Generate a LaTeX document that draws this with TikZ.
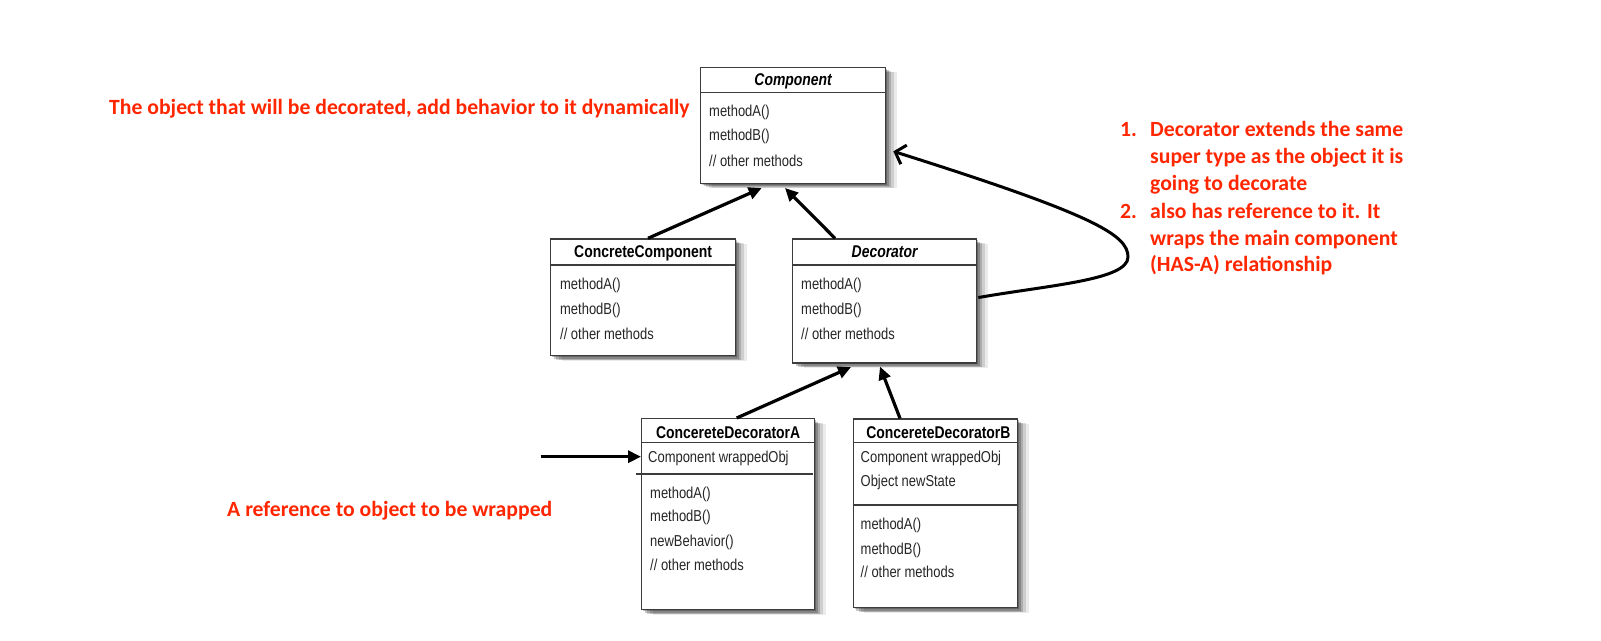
\documentclass[tikz,border=0pt]{standalone}
\usepackage{fontspec}
\usetikzlibrary{arrows.meta,shadows,calc}
\newfontfamily\annotfont{Carlito}
\newfontfamily\umlfont{Liberation Sans}[FakeStretch=0.82]
\definecolor{annot}{RGB}{255,38,0}
\definecolor{boxline}{RGB}{60,60,60}
\tikzset{
  softshadow/.style={
    general shadow={shadow xshift=11pt,shadow yshift=-5pt,fill=black,opacity=0.08},
    general shadow={shadow xshift=8pt,shadow yshift=-4.5pt,fill=black,opacity=0.12},
    general shadow={shadow xshift=5.5pt,shadow yshift=-4pt,fill=black,opacity=0.16},
    general shadow={shadow xshift=3pt,shadow yshift=-3pt,fill=black,opacity=0.22},
    general shadow={shadow xshift=1.5pt,shadow yshift=-1.5pt,fill=black,opacity=0.25}},
  umlbox/.style={draw=boxline, line width=1.3pt, fill=white, anchor=north west,
    inner sep=0pt, softshadow},
  divider/.style={draw=boxline, line width=1.1pt},
  umltext/.style={font=\umlfont\fontsize{15.8}{18}\selectfont, anchor=west,
    inner sep=0pt, text height=11.5pt, text depth=3.3pt, text=black!85},
  umlhead/.style={font=\umlfont\bfseries\fontsize{17}{20}\selectfont, anchor=center,
    inner sep=0pt, text height=12.5pt, text depth=3.5pt},
  umlabstract/.style={umlhead, font=\umlfont\bfseries\itshape\fontsize{17}{20}\selectfont},
  annottext/.style={font=\annotfont\bfseries\fontsize{21.7}{26}\selectfont, text=annot,
    anchor=base west, inner sep=0pt},
  inh/.style={line width=3.2pt, draw=black, -{Triangle[length=13pt,width=12pt]}},
  wrapcurve/.style={line width=3pt, draw=black, -{Straight Barb[length=9pt,width=20pt]}}
}
\begin{document}
\begin{tikzpicture}[x=1pt,y=-1pt]
\fill[white] (0,0) rectangle (1601,640);
\useasboundingbox (0,0) rectangle (1601,640);

% Component
\node[umlbox, minimum width=185pt, minimum height=116pt] (comp) at (700,66.7) {};
\draw[divider] ($(comp.north west)+(0,26)$) -- ($(comp.north east)+(0,26)$);
\node[umlabstract] (compH) at ($(comp.north)+(0,14)$) {Component};
\node[umltext] (compM1) at ($(comp.north west)+(9,45.6)$) {methodA()};
\node[umltext] (compM2) at ($(comp.north west)+(9,70)$) {methodB()};
\node[umltext] (compM3) at ($(comp.north west)+(9,95.6)$) {// other methods};

% ConcreteComponent
\node[umlbox, minimum width=185pt, minimum height=116.7pt] (cc) at (550,238.3) {};
\draw[divider] ($(cc.north west)+(0,26.7)$) -- ($(cc.north east)+(0,26.7)$);
\node[umlhead] (ccH) at ($(cc.north)+(0,14.5)$) {ConcreteComponent};
\node[umltext] (ccM1) at ($(cc.north west)+(10,46.7)$) {methodA()};
\node[umltext] (ccM2) at ($(cc.north west)+(10,71.7)$) {methodB()};
\node[umltext] (ccM3) at ($(cc.north west)+(10,96.7)$) {// other methods};

% Decorator
\node[umlbox, minimum width=184pt, minimum height=124pt] (dec) at (792,238.3) {};
\draw[divider] ($(dec.north west)+(0,26.7)$) -- ($(dec.north east)+(0,26.7)$);
\node[umlabstract] (decH) at ($(dec.north)+(0,14.5)$) {Decorator};
\node[umltext] (decM1) at ($(dec.north west)+(9,46.7)$) {methodA()};
\node[umltext] (decM2) at ($(dec.north west)+(9,71.7)$) {methodB()};
\node[umltext] (decM3) at ($(dec.north west)+(9,96.7)$) {// other methods};

% ConcereteDecoratorA
\node[umlbox, minimum width=173pt, minimum height=191pt] (cda) at (641,418) {};
\draw[divider] ($(cda.north west)+(0,24.5)$) -- ($(cda.north east)+(0,24.5)$);
\node[umlhead] (cdaH) at ($(cda.north)+(0,15.5)$) {ConcereteDecoratorA};
\node[umltext] (cdaA1) at ($(cda.north west)+(7,40.3)$) {Component wrappedObj};
\draw[divider] ($(cda.north west)+(-5,56)$) -- ($(cda.north east)+(-2,56)$);
\node[umltext] (cdaM1) at ($(cda.north west)+(9,76.3)$) {methodA()};
\node[umltext] (cdaM2) at ($(cda.north west)+(9,99.7)$) {methodB()};
\node[umltext] (cdaM3) at ($(cda.north west)+(9,124.3)$) {newBehavior()};
\node[umltext] (cdaM4) at ($(cda.north west)+(9,148)$) {// other methods};

% ConcereteDecoratorB
\node[umlbox, minimum width=164.5pt, minimum height=188.7pt] (cdb) at (852.5,418.3) {};
\draw[divider] ($(cdb.north west)+(0,24.4)$) -- ($(cdb.north east)+(0,24.4)$);
\node[umlhead] (cdbH) at ($(cdb.north)+(3,15.2)$) {ConcereteDecoratorB};
\node[umltext] (cdbA1) at ($(cdb.north west)+(8,40)$) {Component wrappedObj};
\node[umltext] (cdbA2) at ($(cdb.north west)+(8,64.4)$) {Object newState};
\draw[divider] ($(cdb.north west)+(0,86.7)$) -- ($(cdb.north east)+(0,86.7)$);
\node[umltext] (cdbM1) at ($(cdb.north west)+(8,106.7)$) {methodA()};
\node[umltext] (cdbM2) at ($(cdb.north west)+(8,131.7)$) {methodB()};
\node[umltext] (cdbM3) at ($(cdb.north west)+(8,155)$) {// other methods};

% inheritance arrows
\draw[inh] ($(cc.north west)+(98,0)$) -- ($(comp.south west)+(61.7,4)$);
\draw[inh] ($(dec.north west)+(43,0)$) -- ($(comp.south west)+(85,4)$);
\draw[inh] ($(cda.north west)+(95.7,0)$) -- ($(dec.south west)+(59,3.5)$);
\draw[inh] ($(cdb.north west)+(47.5,0)$) -- ($(dec.south west)+(88,3)$);

% reference arrow
\coordinate (refstart) at (540.7,456.7);
\draw[inh] (refstart) -- (cda.west |- refstart);

% has-a curve
\draw[wrapcurve] ($(dec.east)+(1,-3.4)$) .. controls (1050,285) and (1128,280) .. (1128,257)
   .. controls (1128,235) and (1095,215) .. ($(comp.east)+(7,26)$);

% annotations
\node[annottext] (objnote) at (109,114.3) {The object that will be decorated, add behavior to it dynamically};
\node[annottext] (refnote) at (227,516) {A reference to object to be wrapped};
\node[annottext] (num1) at (1120,136.7) {1.};
\node[annottext] (l1a) at (1150,136.7) {Decorator extends the same};
\node[annottext] (l1b) at (1150,163.4) {super type as the object it is};
\node[annottext] (l1c) at (1150,190) {going to decorate};
\node[annottext] (num2) at (1120,218.4) {2.};
\node[annottext] (l2a) at (1150,218.4) {also has reference to it. It};
\node[annottext] (l2b) at (1150,245) {wraps the main component};
\node[annottext] (l2c) at (1150,271.7) {(HAS-A) relationship};
\end{tikzpicture}
\end{document}
